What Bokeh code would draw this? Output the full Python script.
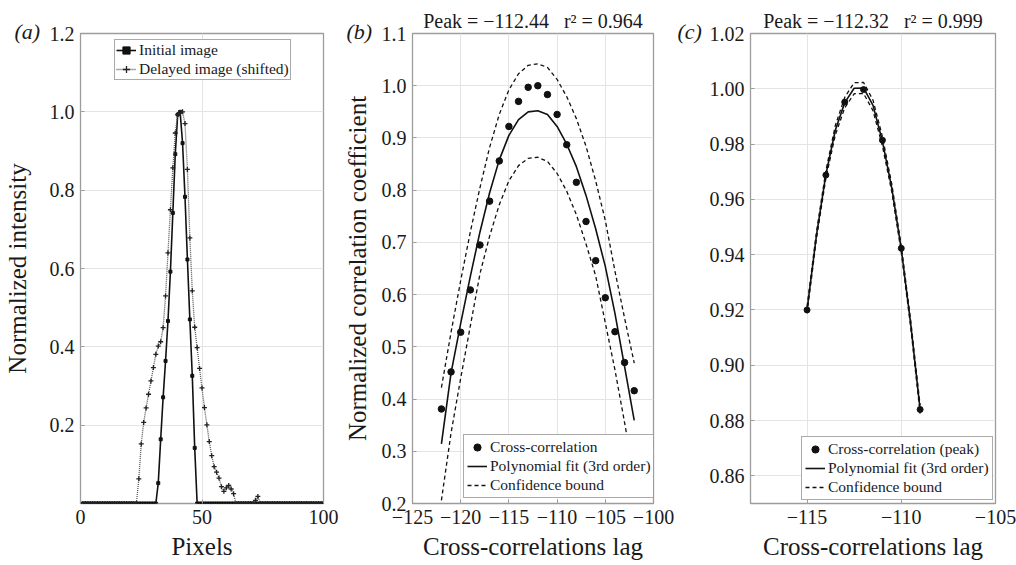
from bokeh.plotting import figure
from bokeh.layouts import row
from bokeh.models import (Legend, LegendItem, FixedTicker, CustomJSTickFormatter,
                          Range1d, Title)
from bokeh.embed import file_html
from bokeh.resources import INLINE

# ---------------- data ----------------
# panel (a)
pixels = list(range(1, 101))
initial_peak = [0.052, 0.164, 0.271, 0.364, 0.466, 0.592, 0.742, 0.892, 0.993, 1.0,
                0.92, 0.783, 0.623, 0.47, 0.326, 0.142, 0.0]          # pixels 32..48
initial = [0.0] * 31 + initial_peak + [0.0] * 52
delayed_peak = [0.063, 0.152, 0.207, 0.244, 0.279, 0.313, 0.347, 0.381, 0.402, 0.413,
                0.449, 0.53, 0.64, 0.75, 0.857, 0.946, 0.993, 0.997, 1.0, 0.97,
                0.853, 0.678, 0.543, 0.45, 0.398, 0.345, 0.295, 0.245, 0.201, 0.158,
                0.122, 0.094, 0.08, 0.065, 0.043, 0.031, 0.04, 0.046, 0.037, 0.025]  # 24..63
delayed_bump = [0.008, 0.018]                                          # 72..73
delayed = [0.0] * 23 + delayed_peak + [0.0] * 8 + delayed_bump + [0.0] * 27

# panel (b)
lags_b = list(range(-122, -101))
xcorr_b = [0.381, 0.452, 0.528, 0.609, 0.695, 0.779, 0.856, 0.922, 0.970, 0.997, 1.0,
           0.983, 0.945, 0.887, 0.815, 0.740, 0.665, 0.594, 0.529, 0.470, 0.416]
fit_b = [0.314, 0.45, 0.545, 0.635, 0.72, 0.795, 0.858, 0.905, 0.935, 0.95, 0.952,
         0.945, 0.922, 0.888, 0.845, 0.79, 0.726, 0.654, 0.564, 0.462, 0.359]
upper_b = [0.422, 0.528, 0.627, 0.72, 0.805, 0.882, 0.945, 0.992, 1.023, 1.039, 1.042,
           1.035, 1.012, 0.979, 0.937, 0.884, 0.818, 0.742, 0.645, 0.555, 0.469]
lower_b = [0.206, 0.335, 0.44, 0.54, 0.64, 0.712, 0.772, 0.818, 0.847, 0.861, 0.863,
           0.855, 0.832, 0.798, 0.753, 0.697, 0.636, 0.546, 0.456, 0.355, 0.249]

# panel (c)
lags_c = [-115, -114, -113, -112, -111, -110, -109]
xcorr_c = [0.920, 0.9688, 0.9952, 0.9997, 0.9814, 0.9423, 0.884]
fit_lags_c = [-115, -114.5, -114, -113.5, -113, -112.5, -112, -111.5, -111, -110.5,
              -110, -109.5, -109]
fit_c = [0.920, 0.947, 0.969, 0.985, 0.995, 1.0002, 1.0003, 0.994, 0.981, 0.964,
         0.942, 0.915, 0.884]
upper_c = [0.9212, 0.9482, 0.9704, 0.9867, 0.9969, 1.0022, 1.0023, 0.9959, 0.9827,
           0.9654, 0.9432, 0.9162, 0.8855]
lower_c = [0.9188, 0.9458, 0.9676, 0.9833, 0.9931, 0.9982, 0.9983, 0.9921, 0.9793,
           0.9626, 0.9408, 0.9138, 0.8825]

title_b = "Peak = \u2212112.44\u00a0\u00a0\u00a0r\u00b2 = 0.964"
title_c = "Peak = \u2212112.32\u00a0\u00a0\u00a0r\u00b2 = 0.999"

FONT = "Liberation Serif"
TXT = "#1a1a1a"
FRAME = "#9c9c9c"

neg_fmt = CustomJSTickFormatter(code="""
    const s = Math.abs(tick).toFixed(0);
    return tick < 0 ? '\u2212' + s : s;
""")

TAG_STANDOFF = -20
PEAK_STANDOFF = -11


def style_tag(t, tag, offset):
    t.text = tag
    t.align = "left"
    t.offset = offset
    t.vertical_align = "bottom"
    t.standoff = TAG_STANDOFF
    t.text_font = FONT
    t.text_font_size = "22px"
    t.text_font_style = "italic"
    t.text_color = TXT


def make_fig(width, xr, yr, left, right, xticks, yticks, yfmt, xlabel, ylabel,
             ylabel_standoff, tag, tag_offset, peak=None):
    p = figure(width=width, height=565, x_range=Range1d(*xr), y_range=Range1d(*yr),
               output_backend="svg", toolbar_location=None,
               min_border_left=left, min_border_right=right,
               min_border_top=33, min_border_bottom=62)
    p.background_fill_color = "white"
    p.border_fill_color = "white"
    p.outline_line_color = FRAME
    p.outline_line_width = 1.3
    p.grid.grid_line_color = "#e4e4e4"
    p.grid.grid_line_width = 1
    p.xaxis.ticker = FixedTicker(ticks=xticks)
    p.yaxis.ticker = FixedTicker(ticks=yticks)
    p.xaxis.formatter = neg_fmt
    p.yaxis.formatter = CustomJSTickFormatter(code="return tick.toFixed(%d);" % yfmt)
    for ax in (p.xaxis[0], p.yaxis[0]):
        ax.axis_line_color = None
        ax.major_tick_in = 4
        ax.major_tick_out = 0
        ax.major_tick_line_color = FRAME
        ax.minor_tick_line_color = None
        ax.major_label_text_font = FONT
        ax.major_label_text_font_size = "20px"
        ax.major_label_text_color = TXT
        ax.axis_label_text_font = FONT
        ax.axis_label_text_font_size = "25px"
        ax.axis_label_text_font_style = "normal"
        ax.axis_label_text_color = TXT
        ax.major_label_standoff = 6
    p.xaxis.axis_label = xlabel
    p.xaxis.axis_label_standoff = 6
    if ylabel:
        p.yaxis.axis_label = ylabel
    p.yaxis.axis_label_standoff = ylabel_standoff
    if peak:
        # figure title = "Peak ..." line; the panel tag goes nearest the frame
        p.title.text = peak
        p.title.align = "center"
        p.title.vertical_align = "bottom"
        p.title.standoff = PEAK_STANDOFF
        p.title.text_font = FONT
        p.title.text_font_size = "20px"
        p.title.text_font_style = "normal"
        p.title.text_color = TXT
        t = Title()
        style_tag(t, tag, tag_offset)
        p.add_layout(t, "above")
    else:
        style_tag(p.title, tag, tag_offset)
    return p


def style_legend(leg, x, y, pad):
    leg.location = (x, y)
    leg.label_text_font = FONT
    leg.label_text_font_size = "15.5px"
    leg.label_text_color = TXT
    leg.border_line_color = "#555555"
    leg.border_line_width = 1
    leg.background_fill_color = "white"
    leg.background_fill_alpha = 1.0
    leg.glyph_width = 20
    leg.glyph_height = 18
    leg.label_height = 18
    leg.label_standoff = 3
    leg.padding = pad
    leg.spacing = 1
    leg.margin = 0


# ---------------- panel (a) ----------------
pa = make_fig(340, (0, 100), (0, 1.2), 78, 17, [0, 50, 100],
              [0.2, 0.4, 0.6, 0.8, 1.0, 1.2], 1, "Pixels", "Normalized intensity", 16,
              "(a)", -66)
la1 = pa.line(pixels, initial, line_color="#111111", line_width=1.6)
ma1 = pa.scatter(pixels, initial, marker="square", size=3, fill_color="#111111",
                 line_color="#111111")
la2 = pa.line(pixels, delayed, line_color="#555555", line_width=1.3, line_dash="1 1")
ma2 = pa.scatter(pixels, delayed, marker="cross", size=5, line_color="#222222",
                 line_width=1.3)
leg_a = Legend(items=[LegendItem(label="Initial image", renderers=[la1, ma1]),
                      LegendItem(label="Delayed image (shifted)", renderers=[la2, ma2])])
style_legend(leg_a, 34, 423, 1)
pa.add_layout(leg_a)

# ---------------- panel (b) ----------------
pb = make_fig(335, (-125, -100), (0.2, 1.1), 68, 22, [-125, -120, -115, -110, -105, -100],
              [0.2, 0.3, 0.4, 0.5, 0.6, 0.7, 0.8, 0.9, 1.0, 1.1], 1,
              "Cross-correlations lag", "Normalized correlation coefficient", 8,
              "(b)", -66, title_b)
db = pb.scatter(lags_b, xcorr_b, marker="circle", size=6.5, fill_color="#111111",
                line_color="#111111")
fb = pb.line(lags_b, fit_b, line_color="#111111", line_width=1.6)
ub = pb.line(lags_b, upper_b, line_color="#111111", line_width=1.3, line_dash="4 3")
pb.line(lags_b, lower_b, line_color="#111111", line_width=1.3, line_dash="4 3")
leg_b = Legend(items=[LegendItem(label="Cross-correlation", renderers=[db]),
                      LegendItem(label="Polynomial fit (3rd order)", renderers=[fb]),
                      LegendItem(label="Confidence bound", renderers=[ub])])
style_legend(leg_b, 51, 5, 3)
pb.add_layout(leg_b)

# ---------------- panel (c) ----------------
pc = make_fig(341, (-118, -105), (0.85, 1.02), 75, 21, [-115, -110, -105],
              [0.86, 0.88, 0.90, 0.92, 0.94, 0.96, 0.98, 1.00, 1.02], 2,
              "Cross-correlations lag", None, 8, "(c)", -73, title_c)
fc = pc.line(fit_lags_c, fit_c, line_color="#111111", line_width=1.6)
uc = pc.line(fit_lags_c, upper_c, line_color="#111111", line_width=1.3, line_dash="4 3")
pc.line(fit_lags_c, lower_c, line_color="#111111", line_width=1.3, line_dash="4 3")
dc = pc.scatter(lags_c, xcorr_c, marker="circle", size=6, fill_color="#111111",
                line_color="#111111")
leg_c = Legend(items=[LegendItem(label="Cross-correlation (peak)", renderers=[dc]),
                      LegendItem(label="Polynomial fit (3rd order)", renderers=[fc]),
                      LegendItem(label="Confidence bound", renderers=[uc])])
style_legend(leg_c, 51, 3, 3)
pc.add_layout(leg_c)

layout = row(pa, pb, pc, spacing=0)
open("out.html", "w").write(file_html(layout, INLINE))
